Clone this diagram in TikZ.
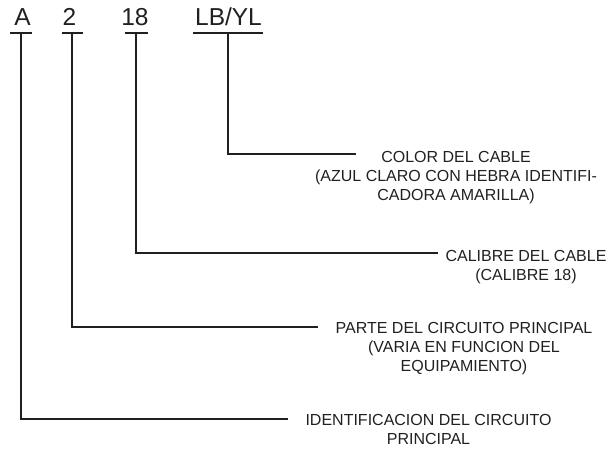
\documentclass[tikz,border=0pt]{standalone}
\usepackage{fontspec}
\setmainfont{Liberation Sans}
\definecolor{ink}{HTML}{231F20}
\begin{document}
\begin{tikzpicture}[x=1pt,y=-1pt]
\tikzset{
  code/.style={font=\fontsize{24.5}{28}\selectfont, text=ink, inner sep=0pt, anchor=base},
  desc/.style={font=\fontsize{16}{19}\selectfont, text=ink, inner sep=0pt, anchor=north, align=center},
  bar/.style={draw=ink, line width=1.4pt},
  lead/.style={draw=ink, line width=1.5pt}
}
\useasboundingbox (0,0) rectangle (610,450);
% codes
\node[code] (cA) at (22.5,25) {A};
\node[code] (c2) at (69.5,25) {2};
\node[code] (c18) at (135,25) {18};
\node[code] (cLB) at (228.5,25) {LB/YL};
% bars under codes
\coordinate (bA) at (21,33);
\coordinate (b2) at (72,33);
\coordinate (b18) at (136,33);
\coordinate (bLB) at (228,33);
\draw[bar] (10,33) -- (32,33);
\draw[bar] (62,33) -- (83,33);
\draw[bar] (125,33) -- (148,33);
\draw[bar] (193,33) -- (263,33);
% descriptions
\node[desc] (dLB) at (456,151.5) {COLOR DEL CABLE\\(AZUL CLARO CON HEBRA IDENTIFI-\\CADORA AMARILLA)};
\node[desc] (d18) at (526,250.5) {CALIBRE DEL CABLE\\(CALIBRE 18)};
\node[desc] (d2) at (464,322.5) {PARTE DEL CIRCUITO PRINCIPAL\\(VARIA EN FUNCION DEL\\EQUIPAMIENTO)};
\node[desc] (dA) at (428.5,414) {IDENTIFICACION DEL CIRCUITO\\PRINCIPAL};
% leader ends
\coordinate (eLB) at (356,154);
\coordinate (e18) at (438,253);
\coordinate (e2) at (318,327);
\coordinate (eA) at (288,419);
% leaders
\draw[lead] (bLB) |- (eLB);
\draw[lead] (b18) |- (e18);
\draw[lead] (b2) |- (e2);
\draw[lead] (bA) |- (eA);
\end{tikzpicture}
\end{document}
